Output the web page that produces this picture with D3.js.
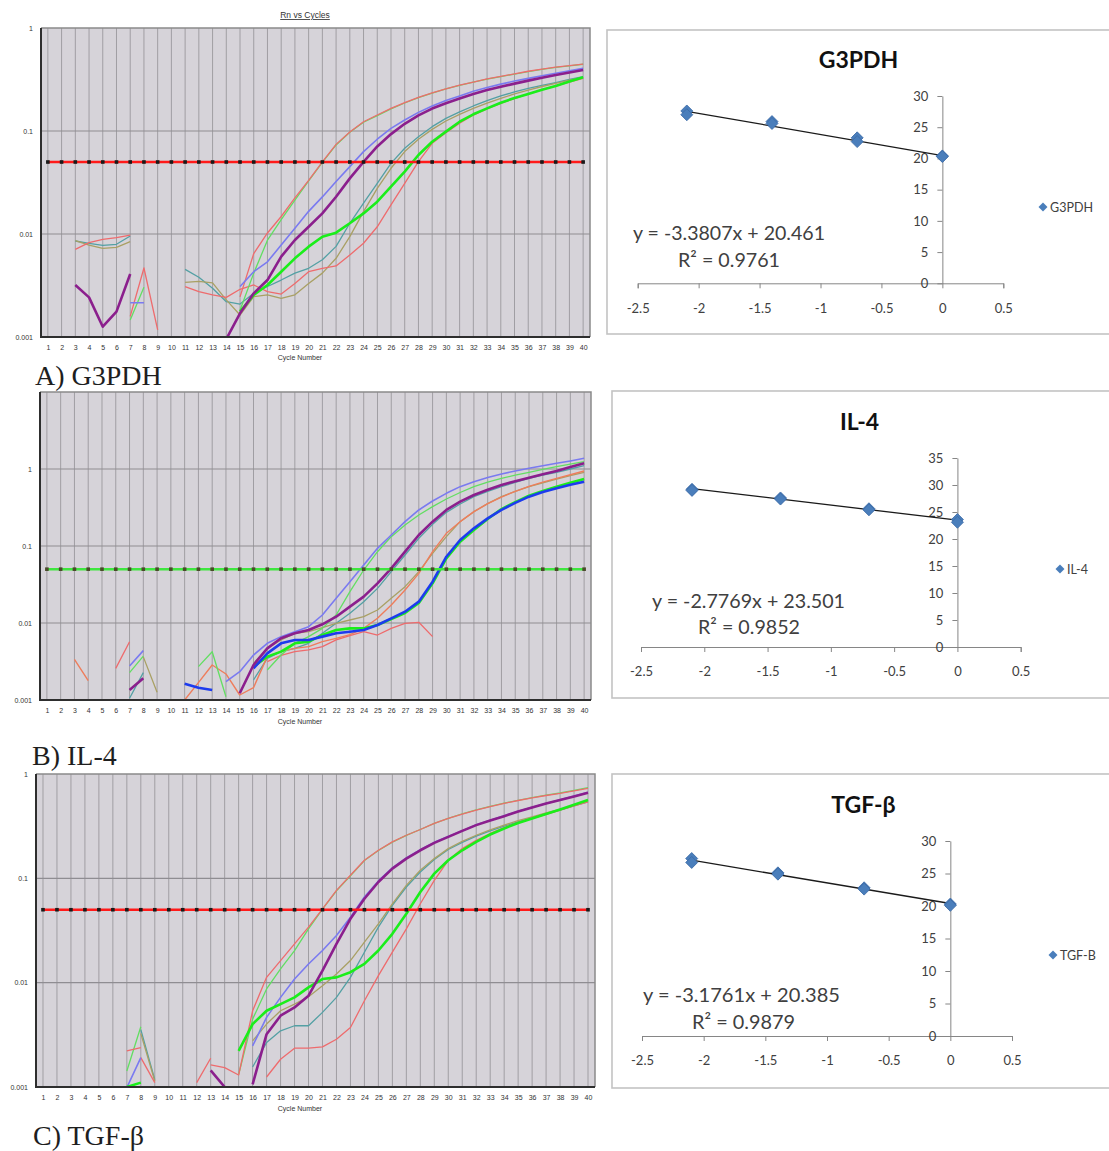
<!DOCTYPE html>
<html>
<head>
<meta charset="utf-8">
<script src="https://cdn.jsdelivr.net/npm/d3@7"></script>
<style>
  body { margin: 0; background: #fff; }
  svg { display: block; }
</style>
</head>
<body>
<svg id="fig" width="1109" height="1151"></svg>
<script>
// ---------------------------------------------------------------------------
// Amplification traces: [cycle, log10(ΔRn)]; a null value breaks the trace.
// ---------------------------------------------------------------------------
const cycleTicks = d3.range(1, 41);
const decadeTicks = [0, -1, -2, -3];
const decadeText = ["1", "0.1", "0.01", "0.001"];
const thresholdRn = 0.05;

// G3PDH
const g3pdhRedHi = [[7,-2.80],[8,-2.33],[9,-2.93],[10,null],[15,-2.61],[16,-2.19],[17,-1.99],[18,-1.83],[19,-1.65],[20,-1.48],[21,-1.30],[22,-1.13],[23,-1.01],[24,-0.91],[25,-0.845],[26,-0.78],[27,-0.725],[28,-0.673],[29,-0.63],[30,-0.59],[31,-0.555],[32,-0.525],[33,-0.495],[34,-0.47],[35,-0.445],[36,-0.42],[37,-0.40],[38,-0.38],[39,-0.365],[40,-0.35]];
const g3pdhGreenHi = [[7,-2.835],[8,-2.517],[9,null],[15,-2.74],[16,-2.38],[17,-2.06],[18,-1.86],[19,-1.67],[20,-1.485],[21,-1.305],[22,-1.135],[23,-1.012],[24,-0.915],[25,-0.85],[26,-0.785],[27,-0.728],[28,-0.676],[29,-0.633],[30,-0.592],[31,-0.556],[32,-0.526],[33,-0.497],[34,-0.472],[35,-0.447],[36,-0.423],[37,-0.402],[38,-0.383],[39,-0.367],[40,-0.352]];
const g3pdhBlueLt = [[7,-2.667],[8,-2.667],[9,null],[15,-2.51],[16,-2.366],[17,-2.27],[18,-2.107],[19,-1.945],[20,-1.78],[21,-1.64],[22,-1.49],[23,-1.346],[24,-1.20],[25,-1.08],[26,-0.974],[27,-0.893],[28,-0.819],[29,-0.757],[30,-0.705],[31,-0.66],[32,-0.615],[33,-0.578],[34,-0.545],[35,-0.515],[36,-0.489],[37,-0.464],[38,-0.44],[39,-0.415],[40,-0.392]];
const g3pdhPurple = [[3,-2.495],[4,-2.615],[5,-2.90],[6,-2.754],[7,-2.388],[8,null],[14,-3.02],[15,-2.77],[16,-2.576],[17,-2.447],[18,-2.22],[19,-2.058],[20,-1.93],[21,-1.80],[22,-1.638],[23,-1.46],[24,-1.30],[25,-1.15],[26,-1.03],[27,-0.93],[28,-0.848],[29,-0.782],[30,-0.731],[31,-0.685],[32,-0.64],[33,-0.603],[34,-0.57],[35,-0.54],[36,-0.511],[37,-0.483],[38,-0.456],[39,-0.432],[40,-0.408]];
const g3pdhTeal = [[3,-2.068],[4,-2.09],[5,-2.11],[6,-2.10],[7,-2.019],[8,null],[11,-2.343],[12,-2.42],[13,-2.527],[14,-2.657],[15,-2.68],[16,-2.576],[17,-2.51],[18,-2.447],[19,-2.38],[20,-2.333],[21,-2.25],[22,-2.12],[23,-1.896],[24,-1.70],[25,-1.508],[26,-1.314],[27,-1.168],[28,-1.055],[29,-0.958],[30,-0.877],[31,-0.815],[32,-0.757],[33,-0.706],[34,-0.66],[35,-0.62],[36,-0.586],[37,-0.557],[38,-0.53],[39,-0.50],[40,-0.472]];
const g3pdhOlive = [[3,-2.065],[4,-2.107],[5,-2.14],[6,-2.13],[7,-2.075],[8,null],[11,-2.47],[12,-2.46],[13,-2.475],[14,-2.64],[15,-2.787],[16,-2.608],[17,-2.592],[18,-2.625],[19,-2.59],[20,-2.48],[21,-2.38],[22,-2.236],[23,-2.026],[24,-1.783],[25,-1.557],[26,-1.362],[27,-1.20],[28,-1.08],[29,-0.984],[30,-0.903],[31,-0.838],[32,-0.78],[33,-0.73],[34,-0.683],[35,-0.64],[36,-0.602],[37,-0.568],[38,-0.537],[39,-0.507],[40,-0.479]];
const g3pdhGreen = [[15,-2.754],[16,-2.592],[17,-2.495],[18,-2.366],[19,-2.236],[20,-2.123],[21,-2.026],[22,-1.987],[23,-1.896],[24,-1.80],[25,-1.686],[26,-1.54],[27,-1.395],[28,-1.233],[29,-1.104],[30,-1.006],[31,-0.91],[32,-0.838],[33,-0.78],[34,-0.725],[35,-0.68],[36,-0.64],[37,-0.60],[38,-0.563],[39,-0.52],[40,-0.479]];
const g3pdhRedLo = [[3,-2.149],[4,-2.084],[5,-2.052],[6,-2.036],[7,-2.01],[8,null],[11,-2.51],[12,-2.56],[13,-2.59],[14,-2.615],[15,-2.537],[16,-2.495],[17,-2.56],[18,-2.583],[19,-2.48],[20,-2.366],[21,-2.333],[22,-2.31],[23,-2.204],[24,-2.09],[25,-1.93],[26,-1.718],[27,-1.508],[28,-1.298],[29,-1.12],[30,-1.016],[31,-0.925],[32,-0.845],[33,-0.785],[34,-0.731],[35,-0.685],[36,-0.64],[37,-0.60],[38,-0.563],[39,-0.525],[40,-0.489]];

// IL-4
const il4BlueLt = [[7,-2.558],[8,-2.359],[9,null],[14,-2.762],[15,-2.632],[16,-2.416],[17,-2.264],[18,-2.177],[19,-2.113],[20,-2.048],[21,-1.896],[22,-1.68],[23,-1.463],[24,-1.247],[25,-1.03],[26,-0.857],[27,-0.684],[28,-0.532],[29,-0.416],[30,-0.316],[31,-0.229],[32,-0.165],[33,-0.11],[34,-0.065],[35,-0.025],[36,0.009],[37,0.042],[38,0.074],[39,0.105],[40,0.139]];
const il4GreenLt = [[7,-2.645],[8,-2.43],[9,null],[12,-2.567],[13,-2.373],[14,-2.957],[15,null],[17,-2.61],[18,-2.416],[19,-2.264],[20,-2.177],[21,-2.07],[22,-1.896],[23,-1.593],[24,-1.312],[25,-1.074],[26,-0.879],[27,-0.727],[28,-0.597],[29,-0.489],[30,-0.39],[31,-0.305],[32,-0.229],[33,-0.17],[34,-0.121],[35,-0.08],[36,-0.043],[37,-0.005],[38,0.03],[39,0.062],[40,0.095]];
const il4Purple = [[7,-2.87],[8,-2.719],[9,null],[15,-2.913],[16,-2.545],[17,-2.329],[18,-2.199],[19,-2.134],[20,-2.09],[21,-2.017],[22,-1.918],[23,-1.788],[24,-1.658],[25,-1.485],[26,-1.29],[27,-1.074],[28,-0.857],[29,-0.684],[30,-0.532],[31,-0.424],[32,-0.338],[33,-0.27],[34,-0.208],[35,-0.158],[36,-0.113],[37,-0.068],[38,-0.026],[39,0.025],[40,0.074]];
const il4Teal = [[7,-2.978],[8,-2.645],[9,null],[16,-2.74],[17,-2.459],[18,-2.372],[19,-2.329],[20,-2.264],[21,-2.134],[22,-2.004],[23,-1.874],[24,-1.723],[25,-1.55],[26,-1.333],[27,-1.117],[28,-0.90],[29,-0.719],[30,-0.563],[31,-0.455],[32,-0.359],[33,-0.29],[34,-0.229],[35,-0.175],[36,-0.121],[37,-0.08],[38,-0.043],[39,0.0],[40,0.043]];
const il4Olive = [[8,-2.44],[9,-2.90],[10,null],[16,-2.524],[17,-2.329],[18,-2.22],[19,-2.134],[20,-2.113],[21,-2.06],[22,-2.004],[23,-1.961],[24,-1.918],[25,-1.831],[26,-1.68],[27,-1.528],[28,-1.333],[29,-1.095],[30,-0.879],[31,-0.684],[32,-0.554],[33,-0.45],[34,-0.359],[35,-0.29],[36,-0.229],[37,-0.18],[38,-0.13],[39,-0.085],[40,-0.043]];
const il4RedAmp = [[3,-2.472],[4,-2.749],[5,null],[11,-3.0],[12,-2.775],[13,-2.545],[14,-2.662],[15,-2.935],[16,-2.84],[17,-2.437],[18,-2.372],[19,-2.33],[20,-2.307],[21,-2.242],[22,-2.20],[23,-2.15],[24,-2.07],[25,-1.939],[26,-1.766],[27,-1.571],[28,-1.355],[29,-1.074],[30,-0.835],[31,-0.684],[32,-0.554],[33,-0.45],[34,-0.365],[35,-0.29],[36,-0.225],[37,-0.17],[38,-0.121],[39,-0.075],[40,-0.026]];
const il4RedFlat = [[6,-2.589],[7,-2.243],[8,null],[17,-2.502],[18,-2.42],[19,-2.372],[20,-2.35],[21,-2.307],[22,-2.22],[23,-2.164],[24,-2.113],[25,-2.156],[26,-2.07],[27,-2.004],[28,-1.991],[29,-2.177]];
const il4Blue = [[11,-2.788],[12,-2.84],[13,-2.87],[14,null],[16,-2.589],[17,-2.394],[18,-2.264],[19,-2.22],[20,-2.22],[21,-2.177],[22,-2.134],[23,-2.113],[24,-2.09],[25,-2.026],[26,-1.939],[27,-1.853],[28,-1.723],[29,-1.463],[30,-1.139],[31,-0.922],[32,-0.771],[33,-0.641],[34,-0.532],[35,-0.44],[36,-0.359],[37,-0.30],[38,-0.251],[39,-0.205],[40,-0.165]];
const il4Green = [[16,-2.567],[17,-2.437],[18,-2.372],[19,-2.264],[20,-2.242],[21,-2.156],[22,-2.09],[23,-2.07],[24,-2.07],[25,-2.026],[26,-1.95],[27,-1.87],[28,-1.74],[29,-1.485],[30,-1.16],[31,-0.944],[32,-0.792],[33,-0.65],[34,-0.52],[35,-0.43],[36,-0.346],[37,-0.285],[38,-0.229],[39,-0.18],[40,-0.13]];

// TGF-β
const tgfRedHi = [[7,-2.654],[8,-2.622],[9,null],[13,-2.788],[14,-2.814],[15,-2.885],[16,-2.27],[17,-1.949],[18,-1.788],[19,-1.628],[20,-1.468],[21,-1.292],[22,-1.115],[23,-0.971],[24,-0.827],[25,-0.731],[26,-0.651],[27,-0.587],[28,-0.532],[29,-0.474],[30,-0.426],[31,-0.385],[32,-0.346],[33,-0.312],[34,-0.282],[35,-0.254],[36,-0.228],[37,-0.206],[38,-0.186],[39,-0.162],[40,-0.138]];
const tgfGreenLt = [[7,-2.846],[8,-2.423],[9,null],[15,-2.88],[16,-2.35],[17,-2.06],[18,-1.867],[19,-1.692],[20,-1.484],[21,-1.295],[22,-1.12],[23,-0.975],[24,-0.83],[25,-0.733],[26,-0.653],[27,-0.588],[28,-0.532],[29,-0.474],[30,-0.425],[31,-0.383],[32,-0.344],[33,-0.31],[34,-0.28],[35,-0.252],[36,-0.226],[37,-0.203],[38,-0.182],[39,-0.157],[40,-0.13]];
const tgfBlueLt = [[7,-3.006],[8,-2.718],[9,null],[16,-2.606],[17,-2.333],[18,-2.141],[19,-1.965],[20,-1.821],[21,-1.692],[22,-1.548],[23,-1.372],[24,-1.179],[25,-1.025],[26,-0.90],[27,-0.805],[28,-0.725],[29,-0.655],[30,-0.598],[31,-0.545],[32,-0.487],[33,-0.443],[34,-0.40],[35,-0.358],[36,-0.318],[37,-0.283],[38,-0.248],[39,-0.21],[40,-0.175]];
const tgfPurple = [[13,-2.84],[14,-3.0],[15,null],[16,-2.974],[17,-2.494],[18,-2.317],[19,-2.237],[20,-2.125],[21,-1.885],[22,-1.628],[23,-1.388],[24,-1.196],[25,-1.035],[26,-0.907],[27,-0.811],[28,-0.731],[29,-0.66],[30,-0.603],[31,-0.545],[32,-0.49],[33,-0.445],[34,-0.404],[35,-0.36],[36,-0.32],[37,-0.283],[38,-0.25],[39,-0.215],[40,-0.18]];
const tgfOlive = [[8,-2.487],[9,-2.942],[10,null],[16,-2.558],[17,-2.397],[18,-2.269],[19,-2.205],[20,-2.135],[21,-2.029],[22,-1.917],[23,-1.788],[24,-1.612],[25,-1.436],[26,-1.244],[27,-1.067],[28,-0.923],[29,-0.811],[30,-0.715],[31,-0.645],[32,-0.587],[33,-0.535],[34,-0.49],[35,-0.448],[36,-0.41],[37,-0.373],[38,-0.34],[39,-0.30],[40,-0.256]];
const tgfTeal = [[8,-2.45],[9,-2.93],[10,null],[16,-2.808],[17,-2.574],[18,-2.462],[19,-2.413],[20,-2.413],[21,-2.285],[22,-2.141],[23,-1.949],[24,-1.708],[25,-1.468],[26,-1.26],[27,-1.083],[28,-0.939],[29,-0.82],[30,-0.724],[31,-0.655],[32,-0.596],[33,-0.545],[34,-0.50],[35,-0.458],[36,-0.42],[37,-0.383],[38,-0.346],[39,-0.305],[40,-0.266]];
const tgfGreen = [[7,-3.0],[8,-2.958],[9,null],[15,-2.654],[16,-2.397],[17,-2.269],[18,-2.205],[19,-2.141],[20,-2.045],[21,-1.965],[22,-1.949],[23,-1.90],[24,-1.82],[25,-1.692],[26,-1.532],[27,-1.34],[28,-1.131],[29,-0.955],[30,-0.827],[31,-0.731],[32,-0.651],[33,-0.58],[34,-0.522],[35,-0.47],[36,-0.426],[37,-0.383],[38,-0.34],[39,-0.295],[40,-0.25]];
const tgfRedLo = [[8,-2.718],[9,-2.958],[10,null],[12,-2.958],[13,-2.724],[14,null],[17,-2.904],[18,-2.734],[19,-2.628],[20,-2.628],[21,-2.615],[22,-2.542],[23,-2.43],[24,-2.173],[25,-1.933],[26,-1.708],[27,-1.484],[28,-1.244],[29,-1.019],[30,-0.827],[31,-0.715],[32,-0.635],[33,-0.57],[34,-0.513],[35,-0.467],[36,-0.426],[37,-0.386],[38,-0.346],[39,-0.305],[40,-0.266]];

// ---------------------------------------------------------------------------
// Standard curves: log10 dilution vs Ct, duplicate wells
// ---------------------------------------------------------------------------
const dilutionLog = [-2.097, -2.097, -1.398, -1.398, -0.699, -0.699, 0, 0];
const g3pdhCt = [27.6, 27.0, 25.9, 25.6, 23.3, 22.7, 20.4, 20.3];
const il4Ct = [29.2, 29.0, 27.6, 27.4, 25.6, 25.4, 23.6, 23.1];
const tgfCt = [27.3, 26.7, 25.1, 24.9, 22.8, 22.6, 20.3, 20.1];
const g3pdhFit = [-3.3807, 20.461, "y = -3.3807x + 20.461", "R² = 0.9761"];
const il4Fit = [-2.7769, 23.501, "y = -2.7769x + 23.501", "R² = 0.9852"];
const tgfFit = [-3.1761, 20.385, "y = -3.1761x + 20.385", "R² = 0.9879"];
const excelXTicks = [-2.5, -2, -1.5, -1, -0.5, 0, 0.5];
const ctTicks30 = [0, 5, 10, 15, 20, 25, 30];
const ctTicks35 = [0, 5, 10, 15, 20, 25, 30, 35];

// ---------------------------------------------------------------------------
const svg = d3.select("#fig");

const wellStyle = {
  red:     { stroke: "#ee6b6d", width: 1.3 },
  orange:  { stroke: "#ee7d5c", width: 1.4 },
  greenLt: { stroke: "#62de62", width: 1.3 },
  blueLt:  { stroke: "#7a7af0", width: 1.6 },
  purple:  { stroke: "#8b1f8d", width: 2.6 },
  teal:    { stroke: "#53a0a4", width: 1.3 },
  olive:   { stroke: "#a9a064", width: 1.3 },
  green:   { stroke: "#1aee1a", width: 2.6 },
  blue:    { stroke: "#1d3bee", width: 2.6 }
};

const g3pdhWells = [
  { data: g3pdhTeal, style: "teal" }, { data: g3pdhOlive, style: "olive" },
  { data: g3pdhRedLo, style: "red" }, { data: g3pdhGreenHi, style: "greenLt" },
  { data: g3pdhRedHi, style: "red" }, { data: g3pdhBlueLt, style: "blueLt" },
  { data: g3pdhGreen, style: "green" }, { data: g3pdhPurple, style: "purple" }
];
const il4Wells = [
  { data: il4RedFlat, style: "red" }, { data: il4Teal, style: "teal" },
  { data: il4Olive, style: "olive" }, { data: il4RedAmp, style: "orange" },
  { data: il4GreenLt, style: "greenLt" }, { data: il4BlueLt, style: "blueLt" },
  { data: il4Green, style: "green" }, { data: il4Blue, style: "blue" },
  { data: il4Purple, style: "purple" }
];
const tgfWells = [
  { data: tgfTeal, style: "teal" }, { data: tgfOlive, style: "olive" },
  { data: tgfRedLo, style: "red" }, { data: tgfGreenLt, style: "greenLt" },
  { data: tgfRedHi, style: "red" }, { data: tgfBlueLt, style: "blueLt" },
  { data: tgfGreen, style: "green" }, { data: tgfPurple, style: "purple" }
];

function drawAmplification(cfg) {
  const g = svg.append("g");
  const x = d3.scaleLinear().domain([0.5, 40.5]).range([cfg.left, cfg.right]);
  const y = d3.scaleLinear().domain([-3, cfg.topExp]).range([cfg.bottom, cfg.top]);
  const x0 = x(0.5), x1 = x(40.5), y0 = y(cfg.topExp), y1 = y(-3);

  g.append("rect").attr("x", x0).attr("y", y0)
    .attr("width", x1 - x0).attr("height", y1 - y0).attr("fill", "#d6d3d9");

  // one grid line per cycle
  g.append("g").selectAll("line").data(cycleTicks).join("line")
    .attr("x1", d => x(d)).attr("x2", d => x(d)).attr("y1", y0).attr("y2", y1)
    .attr("stroke", "#a09ea3").attr("stroke-width", 1);

  // decade grid lines
  g.append("g").selectAll("line")
    .data(decadeTicks.filter(d => d > -3 && d < cfg.topExp)).join("line")
    .attr("x1", x0).attr("x2", x1).attr("y1", d => y(d)).attr("y2", d => y(d))
    .attr("stroke", "#8f8d92").attr("stroke-width", 1.2);

  const clipId = cfg.id + "-clip";
  g.append("clipPath").attr("id", clipId).append("rect")
    .attr("x", x0).attr("y", y0).attr("width", x1 - x0).attr("height", y1 - y0);

  const line = d3.line()
    .defined(d => d[1] !== null)
    .x(d => x(d[0])).y(d => y(d[1]));

  g.append("g").attr("clip-path", `url(#${clipId})`)
    .selectAll("path").data(cfg.wells).join("path")
    .attr("d", w => line(w.data))
    .attr("fill", "none")
    .attr("stroke", w => wellStyle[w.style].stroke)
    .attr("stroke-width", w => wellStyle[w.style].width)
    .attr("stroke-linejoin", "round");

  // threshold with cycle markers
  const ty = y(Math.log10(thresholdRn));
  g.append("line").attr("x1", x(1)).attr("x2", x(40)).attr("y1", ty).attr("y2", ty)
    .attr("stroke", cfg.thresholdColor).attr("stroke-width", 2.6);
  g.append("g").selectAll("rect").data(cycleTicks).join("rect")
    .attr("x", d => x(d) - 1.8).attr("y", ty - 1.8)
    .attr("width", 3.6).attr("height", 3.6).attr("fill", cfg.markerColor);

  // frame
  g.append("path").attr("d", `M${x0},${y0}H${x1}V${y1}`)
    .attr("fill", "none").attr("stroke", "#8a8a8a").attr("stroke-width", 1.5);
  g.append("path").attr("d", `M${x0},${y0}V${y1}H${x1}`)
    .attr("fill", "none").attr("stroke", "#2e2e2e").attr("stroke-width", 2);

  // axes
  const gx = g.append("g").attr("transform", `translate(0,${y1})`)
    .call(d3.axisBottom(x).tickValues(cycleTicks).tickSize(0).tickPadding(8));
  gx.select(".domain").remove();
  gx.selectAll("text").attr("font-size", 7).attr("font-family", "Liberation Sans, Arial, sans-serif").attr("fill", "#333");

  const gy = g.append("g").attr("transform", `translate(${x0},0)`)
    .call(d3.axisLeft(y).tickValues(decadeTicks).tickSize(0).tickPadding(8)
      .tickFormat((d, i) => decadeText[i]));
  gy.select(".domain").remove();
  gy.selectAll("text").attr("font-size", 7).attr("font-family", "Liberation Sans, Arial, sans-serif").attr("fill", "#333");

  g.append("text").attr("x", 300).attr("y", cfg.axisTitleY)
    .attr("text-anchor", "middle").attr("font-size", 7)
    .attr("font-family", "Liberation Sans, Arial, sans-serif").attr("fill", "#333")
    .text("Cycle Number");

  if (cfg.title) {
    g.append("text").attr("x", 305).attr("y", 18)
      .attr("text-anchor", "middle").attr("font-size", 8.5)
      .attr("font-family", "Liberation Sans, Arial, sans-serif").attr("fill", "#333")
      .attr("text-decoration", "underline")
      .text(cfg.title);
  }
}

function drawStandardCurve(cfg) {
  const g = svg.append("g");
  g.append("rect").attr("x", cfg.box[0]).attr("y", cfg.box[1])
    .attr("width", 1200).attr("height", cfg.box[2])
    .attr("fill", "#fff").attr("stroke", "#c3c3c3").attr("stroke-width", 1.6);

  const x = d3.scaleLinear().domain([-2.5, 0.5]).range([cfg.xl, cfg.xr]);
  const y = d3.scaleLinear().domain([0, cfg.yMax]).range([cfg.yb, cfg.yt]);
  const font = "Lato, 'Open Sans', sans-serif";

  const gx = g.append("g").attr("transform", `translate(0,${y(0)})`)
    .call(d3.axisBottom(x).tickValues(excelXTicks).tickFormat(d => String(d))
      .tickSizeInner(5).tickSizeOuter(5).tickPadding(15));
  const gy = g.append("g").attr("transform", `translate(${x(0)},0)`)
    .call(d3.axisLeft(y).tickValues(cfg.yTicks).tickFormat(d => String(d))
      .tickSizeInner(5).tickSizeOuter(0).tickPadding(9));
  [gx, gy].forEach(a => {
    a.selectAll("path, line").attr("stroke", "#868686");
    a.selectAll("text").attr("font-size", 13).attr("font-family", font).attr("fill", "#404040");
  });

  // trend line over the dilution range
  const span = d3.extent(dilutionLog);
  g.append("path")
    .attr("d", d3.line().x(d => x(d)).y(d => y(cfg.fit[0] * d + cfg.fit[1]))(span))
    .attr("stroke", "#1a1a1a").attr("stroke-width", 1.3).attr("fill", "none");

  g.append("g").selectAll("path").data(d3.zip(dilutionLog, cfg.ct)).join("path")
    .attr("d", d3.symbol(d3.symbolSquare, 72))
    .attr("transform", d => `translate(${x(d[0])},${y(d[1])}) rotate(45)`)
    .attr("fill", "#4a7ebb").attr("stroke", "#3b6aa6").attr("stroke-width", 0.8);

  g.append("text").attr("x", cfg.titleX).attr("y", cfg.titleY)
    .attr("text-anchor", "middle").attr("font-family", font).attr("font-weight", 700)
    .attr("font-size", 23).attr("fill", "#111").text(cfg.title);

  g.append("text").attr("x", cfg.eq[0]).attr("y", cfg.eq[1])
    .attr("font-family", font).attr("font-size", 20).attr("fill", "#404040")
    .attr("textLength", cfg.eq[2]).attr("lengthAdjust", "spacingAndGlyphs")
    .text(cfg.fit[2]);
  g.append("text").attr("x", cfg.r2[0]).attr("y", cfg.r2[1])
    .attr("font-family", font).attr("font-size", 20).attr("fill", "#404040")
    .attr("textLength", cfg.r2[2]).attr("lengthAdjust", "spacingAndGlyphs")
    .text(cfg.fit[3]);

  g.append("path").attr("d", d3.symbol(d3.symbolSquare, 40))
    .attr("transform", `translate(${cfg.legend[0]},${cfg.legend[1]}) rotate(45)`)
    .attr("fill", "#4a7ebb");
  g.append("text").attr("x", cfg.legend[0] + 7).attr("y", cfg.legend[1] + 4.5)
    .attr("font-family", font).attr("font-size", 12.5).attr("fill", "#404040")
    .text(cfg.legendText);
}

// amplification plots
drawAmplification({ id: "ampA", left: 41, right: 590, top: 28, bottom: 337, topExp: 0,
  wells: g3pdhWells, thresholdColor: "#ff1a1a", markerColor: "#1a1a1a",
  axisTitleY: 360, title: "Rn vs Cycles" });
drawAmplification({ id: "ampB", left: 40, right: 591, top: 392, bottom: 700, topExp: 1,
  wells: il4Wells, thresholdColor: "#3fe63f", markerColor: "#4a4a2a",
  axisTitleY: 724 });
drawAmplification({ id: "ampC", left: 36, right: 595, top: 774, bottom: 1087, topExp: 0,
  wells: tgfWells, thresholdColor: "#ff1a1a", markerColor: "#1a1a1a",
  axisTitleY: 1111 });

// standard curves
drawStandardCurve({ box: [607, 30, 304], xl: 637.7, xr: 1003.3, yb: 283.3, yt: 96, yMax: 30,
  yTicks: ctTicks30, ct: g3pdhCt, fit: g3pdhFit, title: "G3PDH", titleX: 858.5, titleY: 68,
  eq: [633, 240, 192], r2: [678, 267, 102], legend: [1043, 207], legendText: "G3PDH" });
drawStandardCurve({ box: [612, 391, 307], xl: 641, xr: 1020.7, yb: 647, yt: 458, yMax: 35,
  yTicks: ctTicks35, ct: il4Ct, fit: il4Fit, title: "IL-4", titleX: 859.5, titleY: 430,
  eq: [652, 608, 193], r2: [698, 634, 102], legend: [1060, 569], legendText: "IL-4" });
drawStandardCurve({ box: [612, 774, 314], xl: 642, xr: 1012, yb: 1036, yt: 841, yMax: 30,
  yTicks: ctTicks30, ct: tgfCt, fit: tgfFit, title: "TGF-β", titleX: 863.5, titleY: 813,
  eq: [643, 1002, 197], r2: [692, 1029, 103], legend: [1053, 955], legendText: "TGF-B" });

// panel captions
const captions = [["A) G3PDH", 35, 385], ["B) IL-4", 32, 765], ["C) TGF-β", 33, 1145]];
svg.append("g").selectAll("text").data(captions).join("text")
  .attr("x", d => d[1]).attr("y", d => d[2])
  .attr("font-family", "'Liberation Serif', 'Times New Roman', serif")
  .attr("font-size", 28).attr("fill", "#1e1e1e")
  .text(d => d[0]);
</script>
</body>
</html>
